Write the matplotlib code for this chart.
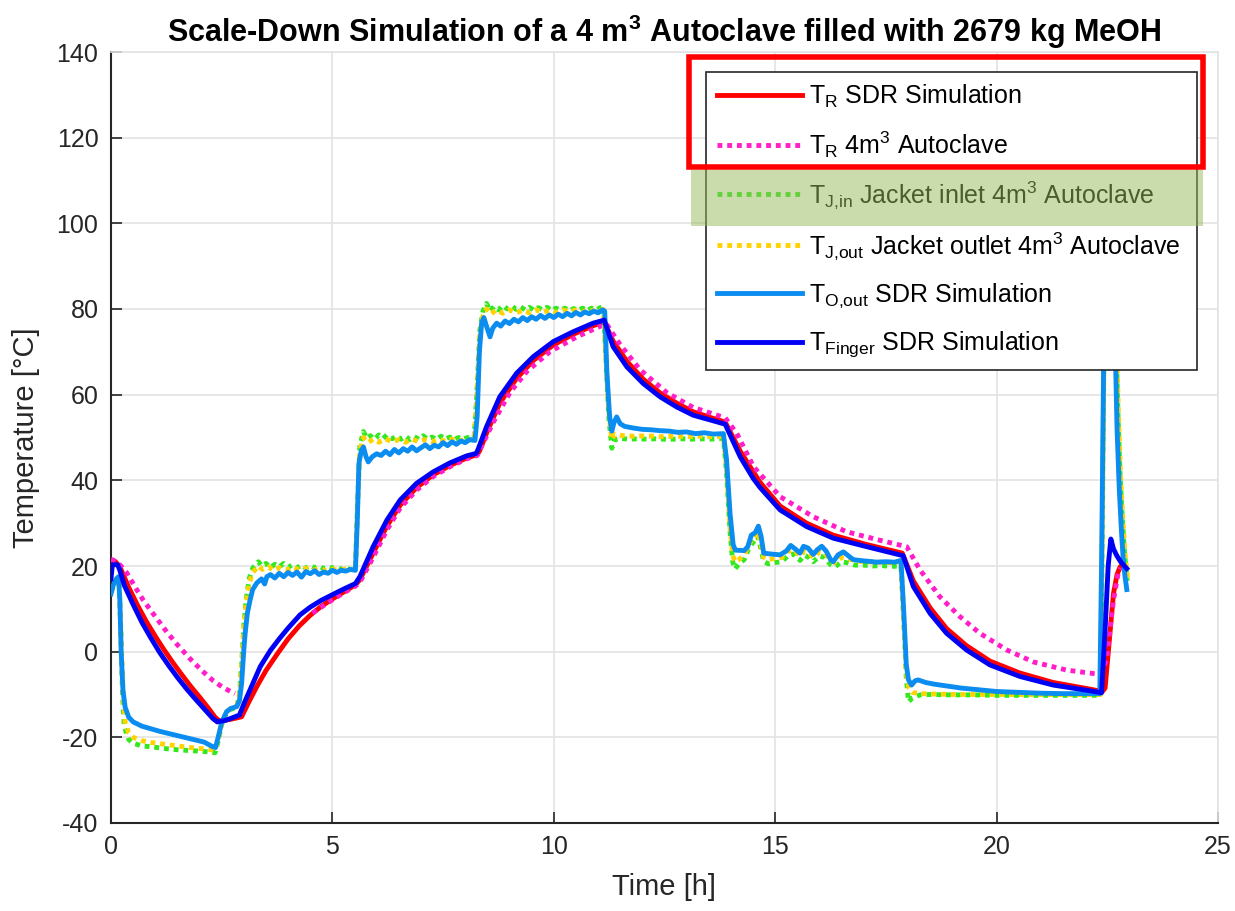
import numpy as np
import matplotlib
matplotlib.use("Agg")
import matplotlib.pyplot as plt
from matplotlib.patches import Rectangle

plt.rcParams['font.family'] = ['Liberation Sans', 'DejaVu Sans']
plt.rcParams['mathtext.fontset'] = 'custom'
plt.rcParams['mathtext.rm'] = 'Liberation Sans'
plt.rcParams['mathtext.it'] = 'Liberation Sans:italic'
plt.rcParams['mathtext.bf'] = 'Liberation Sans:bold'
plt.rcParams['axes.unicode_minus'] = False

nan = np.nan

# ---------------- data (time in h, temperature in degC) ----------------
t_red = [0.0, 0.1, 0.2, 0.4, 0.6, 0.8, 1.0, 1.2, 1.4, 1.6, 1.8, 2.0, 2.2, 2.35, 2.45, 2.7, 2.95,
         3.1, 3.3, 3.5, 3.75, 4.0, 4.25, 4.5, 4.75, 5.0, 5.25, 5.52,
         5.62, 5.92, 6.23, 6.53, 6.9, 7.28, 7.66, 8.03, 8.27,
         8.33, 8.48, 8.78, 9.16, 9.54, 9.99, 10.44, 10.89, 11.14,
         11.34, 11.65, 12.02, 12.4, 12.78, 13.15, 13.53, 13.87,
         14.21, 14.66, 15.11, 15.71, 16.31, 17.07, 17.87,
         18.12, 18.5, 18.87, 19.32, 19.85, 20.53, 21.28, 22.03, 22.39,
         22.45, 22.52, 22.64, 22.72, 22.79, 22.85]
T_red = [21.2, 21.0, 19.8, 15.0, 10.8, 7.0, 3.6, 0.4, -2.6, -5.4, -8.1, -10.6, -13.2, -15.3, -16.2, -15.8, -15.2,
         -12.0, -8.0, -4.4, -0.6, 3.0, 6.0, 8.5, 10.6, 12.3, 13.9, 15.6,
         16.8, 23.0, 29.3, 34.2, 38.3, 41.3, 43.5, 45.2, 46.0,
         47.0, 51.0, 58.0, 63.8, 68.0, 71.6, 74.1, 76.1, 77.0,
         72.5, 67.8, 63.6, 60.4, 58.0, 56.0, 54.7, 53.6,
         46.8, 39.5, 34.0, 30.0, 27.2, 25.0, 23.0,
         16.5, 10.2, 5.4, 1.4, -2.2, -5.0, -7.2, -8.6, -9.3,
         -8.5, -0.4, 13.6, 18.0, 19.8, 20.3]

t_aut = [0.0, 0.05, 0.2, 0.35, 0.55, 0.73, 1.0, 1.26, 1.5, 1.78, 2.05, 2.31, 2.55, 2.8, 2.85,
         4.55, 4.75, 5.0, 5.25, 5.52,
         5.62, 5.92, 6.23, 6.53, 6.9, 7.28, 7.66, 8.03, 8.27,
         8.33, 8.63, 9.01, 9.39, 9.91, 10.52, 11.12,
         11.19, 11.49, 11.95, 12.55, 13.15, 13.87,
         14.13, 14.51, 15.11, 15.86, 16.61, 17.37, 17.97,
         18.27, 18.72, 19.17, 19.62, 20.23, 20.83, 21.58, 22.26,
         22.4, 22.48, 22.64, 22.75, 22.8]
T_aut = [21.5, 21.4, 20.3, 18.5, 15.0, 12.0, 8.2, 4.6, 1.6, -1.6, -4.4, -6.8, -8.5, -9.8, nan,
         9.0, 10.4, 12.1, 13.7, 15.3,
         16.2, 22.0, 28.4, 33.5, 37.7, 40.9, 43.2, 45.0, 45.8,
         47.1, 53.5, 60.5, 65.4, 70.0, 73.5, 76.3,
         76.5, 71.8, 65.8, 60.5, 57.0, 54.6,
         51.0, 43.2, 36.2, 31.5, 28.0, 26.0, 24.5,
         19.1, 12.8, 8.2, 4.3, 0.4, -2.4, -4.3, -5.2,
         -4.3, -1.9, 12.0, 18.6, 19.5]

t_jin = [0.0, 0.1, 0.18, 0.22, 0.26, 0.3, 0.4, 0.5, 0.7, 0.9, 1.2, 1.5, 1.8, 2.1, 2.35,
         2.42, 2.5, 2.6, 2.7, 2.84, 2.9, 2.95, 3.0, 3.05, 3.12, 3.2, 3.33,
         3.4, 3.5, 3.6, 3.7, 3.8, 3.9, 4.0, 4.1, 4.2, 4.3, 4.4, 4.5, 4.6, 4.7, 4.8, 4.9,
         5.0, 5.1, 5.2, 5.3, 5.4, 5.52,
         5.57, 5.62, 5.7, 5.78, 5.86, 5.95, 6.05, 6.15, 6.23, 6.35, 6.45, 6.55, 6.65, 6.75,
         6.85, 6.95, 7.05, 7.15, 7.25, 7.35, 7.45, 7.55, 7.65, 7.75, 7.85, 7.95, 8.05, 8.2,
         8.26, 8.33, 8.4, 8.48, 8.56, 8.65, 8.75, 8.85, 8.95, 9.05, 9.15, 9.25, 9.35, 9.45,
         9.55, 9.65, 9.75, 9.85, 9.95, 10.05, 10.15, 10.25, 10.35, 10.45, 10.55, 10.65,
         10.75, 10.85, 10.95, 11.05, 11.12,
         11.17, 11.24, 11.31, 11.38, 11.5, 11.7, 11.9, 12.1, 12.3, 12.5, 12.7, 12.9, 13.1,
         13.3, 13.5, 13.7, 13.83,
         13.9, 13.98, 14.04, 14.09, 14.18, 14.3, 14.4, 14.5, 14.6, 14.68, 14.74, 14.85,
         15.0, 15.15, 15.3, 15.42, 15.56, 15.66, 15.76, 15.86, 16.0, 16.12, 16.25, 16.35,
         16.5, 16.65, 16.8, 17.0, 17.2, 17.4, 17.6, 17.84,
         17.9, 17.96, 18.01, 18.1, 18.27, 18.5, 19.0, 19.5, 20.0, 20.5, 21.0, 21.5, 22.0, 22.35,
         22.38, 22.42, 22.46, 22.55, 22.65, 22.7, 22.74, 22.79, 22.84, 22.89, 22.95]
T_jin = [14.0, 16.0, 17.0, 5.0, -10.0, -17.5, -20.5, -21.4, -22.0, -22.2, -22.6, -22.9, -23.1, -23.3, -23.6,
         -21.0, -17.0, -14.5, -13.5, -13.0, -10.0, -3.0, 6.0, 12.0, 17.0, 19.5, 21.0,
         20.0, 20.6, 19.6, 20.4, 19.8, 20.6, 19.7, 20.3, 19.6, 20.2, 19.5, 20.1, 19.6, 20.0, 19.4, 19.9,
         19.5, 19.8, 19.2, 19.6, 19.2, 19.3,
         35.0, 48.0, 51.4, 49.8, 50.4, 49.6, 50.6, 49.8, 50.6, 49.7, 50.4, 49.6, 50.3, 49.5,
         50.2, 49.6, 50.4, 49.6, 50.1, 49.5, 50.3, 49.6, 50.1, 49.5, 50.0, 49.6, 50.0, 49.8,
         60.0, 75.0, 79.5, 81.3, 79.5, 80.6, 79.8, 80.8, 80.0, 80.7, 79.9, 80.5, 79.8, 80.4,
         79.7, 80.3, 79.8, 80.4, 79.6, 80.2, 79.7, 80.2, 79.6, 80.1, 79.7, 80.2,
         79.6, 80.2, 79.8, 80.3, 80.6,
         70.0, 55.0, 47.5, 49.5, 49.8, 49.6, 49.7, 49.6, 49.7, 49.6, 49.6, 49.7, 49.6,
         49.7, 49.6, 49.7, 49.8,
         42.0, 28.0, 21.0, 19.3, 20.5, 21.5, 24.0, 25.5, 27.0, 24.0, 21.0, 20.5,
         20.8, 21.0, 22.5, 22.8, 21.3, 22.5, 22.0, 21.0, 22.3, 22.0, 20.3, 19.8,
         21.0, 20.7, 20.2, 20.2, 20.0, 20.1, 19.9, 20.0,
         8.0, -6.0, -11.7, -10.8, -10.1, -10.0, -10.1, -10.1, -10.2, -10.2, -10.2, -10.2, -10.2, -10.2,
         20.0, 65.0, 95.0, 100.0, 90.0, 72.0, 56.0, 41.0, 31.0, 23.0, 16.5]

t_jout = [0.0, 0.1, 0.18, 0.22, 0.27, 0.32, 0.4, 0.5, 0.7, 0.9, 1.2, 1.5, 1.8, 2.1, 2.35,
          2.42, 2.5, 2.6, 2.7, 2.84, 2.9, 2.95, 3.0, 3.05, 3.12, 3.2, 3.33,
          3.42, 3.55, 3.68, 3.8, 3.95, 4.1, 4.25, 4.4, 4.55, 4.7, 4.85, 5.0, 5.15, 5.3, 5.52,
          5.57, 5.62, 5.7, 5.8, 5.92, 6.05, 6.2, 6.35, 6.5, 6.65, 6.8, 6.95, 7.1, 7.25, 7.4,
          7.55, 7.7, 7.85, 8.0, 8.2,
          8.26, 8.33, 8.4, 8.48, 8.58, 8.7, 8.85, 9.0, 9.15, 9.3, 9.45, 9.6, 9.75, 9.9,
          10.05, 10.2, 10.35, 10.5, 10.65, 10.8, 10.95, 11.12,
          11.17, 11.24, 11.31, 11.38, 11.5, 11.8, 12.1, 12.4, 12.7, 13.0, 13.3, 13.6, 13.83,
          13.9, 13.98, 14.04, 14.09, 14.18, 14.3, 14.4, 14.5, 14.6, 14.68, 14.74, 14.85,
          15.0, 15.15, 15.3, 15.42, 15.56, 15.66, 15.76, 15.86, 16.0, 16.12, 16.25, 16.35,
          16.5, 16.65, 16.8, 17.0, 17.3, 17.6, 17.84,
          17.9, 17.96, 18.02, 18.1, 18.27, 18.6, 19.0, 19.5, 20.0, 20.5, 21.0, 21.5, 22.0, 22.35,
          22.38, 22.42, 22.46, 22.55, 22.66, 22.71, 22.75, 22.8, 22.85, 22.9, 22.96]
T_jout = [14.0, 16.0, 17.0, 6.0, -9.0, -16.5, -19.0, -20.0, -20.8, -21.2, -21.6, -22.0, -22.4, -22.7, -23.0,
          -20.5, -16.8, -14.2, -13.3, -12.8, -10.0, -3.5, 5.5, 11.0, 16.0, 18.5, 20.0,
          19.2, 19.8, 19.0, 19.6, 19.0, 19.7, 19.1, 19.5, 19.0, 19.4, 18.9, 19.3, 18.9, 19.3, 19.1,
          34.0, 47.0, 50.0, 48.8, 49.6, 48.9, 49.7, 49.0, 49.5, 48.9, 49.6, 49.0, 49.5, 49.0, 49.6,
          49.1, 49.6, 49.1, 49.6, 49.4,
          59.0, 74.0, 78.5, 80.0, 78.8, 79.8, 79.0, 79.8, 79.1, 79.7, 79.1, 79.8, 79.2, 79.7,
          79.2, 79.8, 79.3, 79.8, 79.3, 79.8, 79.4, 79.9,
          70.0, 56.0, 49.5, 50.8, 50.5, 50.3, 50.4, 50.2, 50.3, 50.2, 50.3, 50.2, 50.3,
          43.0, 29.0, 22.5, 21.0, 21.5, 22.5, 25.0, 26.5, 28.0, 25.0, 22.0, 21.5,
          21.8, 22.0, 23.5, 23.8, 22.3, 23.5, 23.0, 22.0, 23.3, 23.0, 21.3, 20.8,
          22.0, 21.7, 21.2, 21.0, 20.9, 20.8, 21.0,
          8.0, -5.0, -8.5, -9.5, -9.8, -9.9, -10.0, -10.0, -10.0, -10.0, -10.0, -10.0, -10.0, -10.0,
          20.0, 62.0, 94.0, 99.0, 89.0, 72.0, 56.0, 41.0, 31.0, 23.0, 17.0]

t_oout = [0.0, 0.05, 0.12, 0.17, 0.2, 0.23, 0.27, 0.32, 0.4, 0.5, 0.7, 0.9, 1.1, 1.3, 1.5, 1.7,
          1.9, 2.1, 2.3, 2.36, 2.42, 2.5, 2.61, 2.7, 2.84, 2.9, 2.95, 3.0, 3.03, 3.08, 3.14,
          3.2, 3.29, 3.4, 3.47, 3.52, 3.6, 3.7, 3.8, 3.9, 4.0, 4.1, 4.2, 4.3, 4.4, 4.5, 4.6,
          4.7, 4.8, 4.9, 5.0, 5.1, 5.2, 5.3, 5.4, 5.52,
          5.56, 5.6, 5.65, 5.7, 5.76, 5.81, 5.9, 6.0, 6.1, 6.2, 6.3, 6.4, 6.5, 6.6, 6.7, 6.8,
          6.9, 7.0, 7.1, 7.2, 7.3, 7.4, 7.5, 7.6, 7.7, 7.8, 7.9, 8.0, 8.1, 8.22,
          8.27, 8.32, 8.37, 8.42, 8.48, 8.56, 8.62, 8.71, 8.8, 8.9, 9.0, 9.1, 9.2, 9.3, 9.4,
          9.5, 9.6, 9.7, 9.8, 9.9, 10.0, 10.1, 10.2, 10.3, 10.4, 10.5, 10.6, 10.7, 10.8,
          10.9, 11.0, 11.1, 11.15,
          11.2, 11.26, 11.31, 11.36, 11.42, 11.5, 11.6, 11.8, 12.0, 12.2, 12.4, 12.6, 12.8,
          13.0, 13.2, 13.4, 13.6, 13.83,
          13.9, 13.98, 14.05, 14.1, 14.3, 14.38, 14.46, 14.55, 14.62, 14.68, 14.74, 14.9,
          15.11, 15.25, 15.35, 15.45, 15.56, 15.64, 15.74, 15.86, 15.95, 16.05, 16.15, 16.25,
          16.31, 16.42, 16.54, 16.65, 16.76, 16.9, 17.1, 17.3, 17.5, 17.7, 17.84,
          17.9, 17.96, 18.01, 18.08, 18.16, 18.23, 18.4, 18.6, 18.87, 19.2, 19.6, 20.0,
          20.5, 21.0, 21.5, 22.0, 22.33,
          22.37, 22.41, 22.44, 22.5, 22.6, 22.65, 22.69, 22.72, 22.77, 22.82, 22.86, 22.9, 22.94]
T_oout = [13.5, 15.5, 17.0, 17.5, 12.0, 0.0, -9.0, -13.0, -15.3, -16.4, -17.4, -18.0, -18.6, -19.1, -19.6, -20.1,
          -20.6, -21.1, -22.2, -22.4, -20.0, -16.5, -14.0, -13.3, -12.8, -11.5, -7.4, 0.5, 4.3, 9.0, 12.0,
          14.5, 16.0, 17.0, 15.8, 17.5, 18.0, 17.2, 18.3, 17.5, 18.5, 17.8, 18.6, 17.4, 18.7, 18.2, 18.9,
          18.0, 18.6, 18.3, 19.0, 18.5, 19.0, 18.8, 19.2, 19.0,
          30.0, 44.0, 46.8, 47.8, 45.5, 44.3, 45.5, 46.2, 45.8, 46.8, 46.0, 47.2, 46.4, 47.4, 46.8, 47.8,
          46.9, 47.6, 48.3, 47.4, 48.2, 47.8, 48.8, 48.1, 49.0, 48.4, 49.2, 48.8, 49.5, 49.3,
          55.0, 70.0, 76.7, 78.0, 76.0, 73.5, 75.5, 76.7, 76.0, 77.2, 76.6, 77.6, 77.0, 78.0, 77.3,
          78.2, 77.6, 78.5, 77.8, 78.6, 78.0, 78.8, 78.2, 79.0, 78.4, 79.2, 78.6, 79.3, 78.9,
          79.5, 79.1, 79.8, 79.5,
          65.0, 55.0, 51.5, 53.5, 54.8, 53.2, 52.6, 52.2, 51.9, 51.8, 51.6, 51.5, 51.2,
          51.3, 50.9, 51.1, 50.8, 50.9,
          45.0, 32.3, 25.0, 23.7, 23.6, 24.5, 27.2, 27.8, 29.3, 27.0, 23.0, 22.8,
          22.6, 23.5, 24.8, 24.0, 23.0, 24.6, 24.2, 22.7, 23.8, 24.6, 23.5, 21.5,
          21.0, 22.6, 23.3, 22.4, 21.5, 21.3, 21.1, 20.9, 21.0, 20.9, 21.3,
          10.0, -3.0, -6.6, -7.8, -6.8, -6.6, -7.2, -7.6, -8.0, -8.5, -8.9, -9.3,
          -9.5, -9.7, -9.8, -9.8, -9.8,
          20.0, 60.0, 90.0, 98.0, 95.0, 85.0, 66.0, 52.0, 38.0, 28.0, 21.5, 17.5, 14.5]

t_fin = [0.0, 0.03, 0.15, 0.2, 0.3, 0.5, 0.7, 0.9, 1.1, 1.3, 1.5, 1.7, 1.9, 2.1, 2.3, 2.4,
         2.6, 2.9, 3.0, 3.2, 3.37, 3.6, 3.8, 4.0, 4.27, 4.5, 4.75, 5.0, 5.25, 5.52,
         5.62, 5.92, 6.23, 6.53, 6.9, 7.28, 7.66, 8.03, 8.25,
         8.3, 8.48, 8.78, 9.16, 9.54, 9.99, 10.44, 10.89, 11.14,
         11.34, 11.65, 12.02, 12.4, 12.78, 13.15, 13.53, 13.87,
         14.21, 14.5, 14.66, 15.11, 15.71, 16.31, 17.07, 17.89,
         18.12, 18.5, 18.87, 19.32, 19.85, 20.53, 21.28, 22.03, 22.37,
         22.45, 22.52, 22.58, 22.64, 22.71, 22.8, 22.94]
T_fin = [17.0, 20.3, 20.3, 19.0, 15.5, 11.0, 6.8, 3.2, -0.2, -3.2, -6.0, -8.6, -11.0, -13.3, -15.6, -16.4,
         -16.0, -14.8, -12.2, -7.5, -3.5, 0.3, 3.0, 5.5, 8.6, 10.4, 12.0, 13.3, 14.6, 15.9,
         17.5, 24.5, 30.7, 35.4, 39.3, 42.0, 44.1, 45.7, 46.3,
         47.5, 52.5, 59.5, 65.0, 68.9, 72.4, 74.7, 76.7, 77.4,
         71.2, 66.5, 62.6, 59.5, 57.1, 55.2, 54.1, 53.1,
         45.5, 40.5, 38.3, 33.1, 29.2, 26.5, 24.5, 22.4,
         15.2, 8.9, 4.3, 0.4, -3.1, -5.8, -7.8, -9.0, -9.6,
         5.0, 20.0, 26.3, 24.0, 22.5, 21.0, 19.4]

x_ticks = [0, 5, 10, 15, 20, 25]
y_ticks = [-40, -20, 0, 20, 40, 60, 80, 100, 120, 140]

labels = [r'$\mathregular{T_R}$ SDR Simulation',
          r'$\mathregular{T_R}$ 4m$\mathregular{^3}$ Autoclave',
          r'$\mathregular{T_{J{,}in}}$ Jacket inlet 4m$\mathregular{^3}$ Autoclave',
          r'$\mathregular{T_{J{,}out}}$ Jacket outlet 4m$\mathregular{^3}$ Autoclave',
          r'$\mathregular{T_{O{,}out}}$ SDR Simulation',
          r'$\mathregular{T_{Finger}}$ SDR Simulation']

# ---------------- figure ----------------
W, H = 1235, 911
fig = plt.figure(figsize=(W / 100, H / 100), dpi=100)
L, R, T, B = 111, 1218, 52, 823
ax = fig.add_axes([L / W, 1 - B / H, (R - L) / W, (B - T) / H])

lw = 3.5
ax.plot(t_red, T_red, color='#ff0000', lw=lw, label=labels[0], zorder=3)
ax.plot(t_aut, T_aut, color='#ff1ec8', lw=lw, ls=(0, (1, 1)), label=labels[1], zorder=3.1)
ax.plot(t_jin, T_jin, color='#33e81e', lw=lw, ls=(0, (1, 1)), label=labels[2], zorder=3.2)
ax.plot(t_jout, T_jout, color='#ffd200', lw=lw, ls=(0, (1, 1)), label=labels[3], zorder=3.3)
ax.plot(t_oout, T_oout, color='#0a8cf0', lw=lw, label=labels[4], zorder=3.4)
ax.plot(t_fin, T_fin, color='#0000f5', lw=lw, label=labels[5], zorder=3.5)

ax.set_xlim(0, 25)
ax.set_ylim(-40, 140)
ax.set_xticks(x_ticks)
ax.set_yticks(y_ticks)
ax.tick_params(direction='in', length=8, width=1.2, labelsize=18, colors='#262626', pad=9)
ax.grid(True, color='#e3e3e3', lw=1.2)
ax.set_axisbelow(True)
for s in ['top', 'right']:
    ax.spines[s].set_color('#e3e3e3')
    ax.spines[s].set_linewidth(1.2)
for s in ['left', 'bottom']:
    ax.spines[s].set_color('#262626')
    ax.spines[s].set_linewidth(1.5)

ax.set_xlabel('Time [h]', fontsize=21, color='#262626', labelpad=10)
ax.set_ylabel('Temperature [°C]', fontsize=21, color='#262626', labelpad=12)
ax.set_title(r'Scale-Down Simulation of a 4 m$\mathbf{^3}$ Autoclave filled with 2679 kg MeOH',
             fontsize=22, fontweight='bold', pad=7)

x0 = (706 - L) / (R - L)
x1 = (1197 - L) / (R - L)
y0 = (B - 370) / (B - T)
y1 = (B - 72) / (B - T)
leg = ax.legend(loc='upper left', bbox_to_anchor=(x0, y0, x1 - x0, y1 - y0), mode='expand',
                borderaxespad=0, fontsize=18, handlelength=3.4, handletextpad=0.3,
                labelspacing=0.78, borderpad=0.42, fancybox=False, framealpha=1,
                edgecolor='#262626')
leg.get_frame().set_linewidth(1.2)
leg.set_zorder(10)

# red highlight box
fig.add_artist(Rectangle((689 / W, 1 - 167 / H), (1203 - 689) / W, (167 - 57) / H,
                         transform=fig.transFigure, fill=False, edgecolor='#ff0000', lw=4, zorder=20))
# green highlight band
fig.add_artist(Rectangle((691 / W, 1 - 226 / H), (1203 - 691) / W, (226 - 170) / H,
                         transform=fig.transFigure, facecolor='#96b95a', alpha=0.5,
                         edgecolor='none', zorder=20))

fig.savefig('out.png', dpi=100)
